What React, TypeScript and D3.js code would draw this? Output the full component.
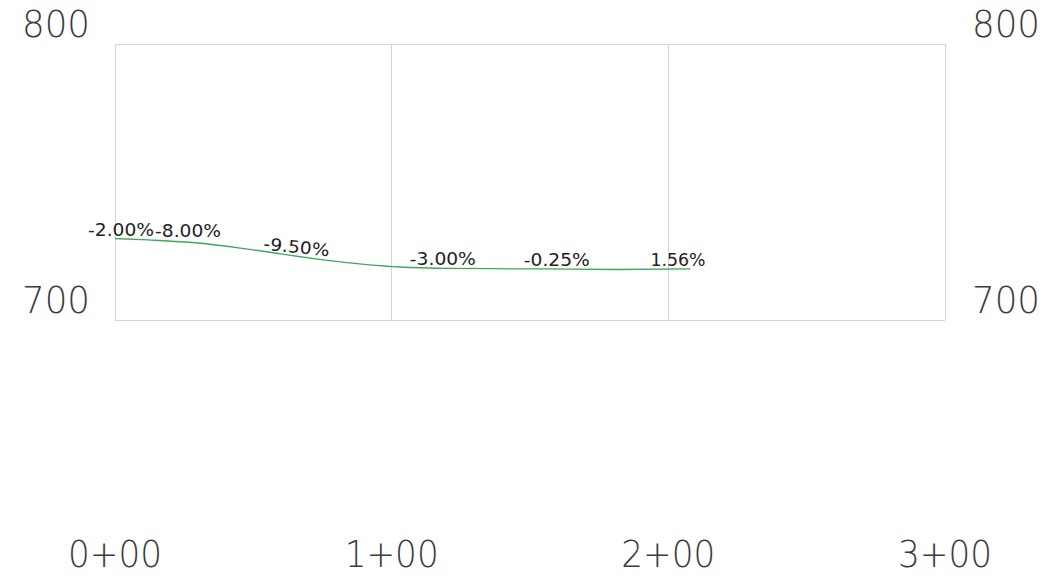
import React, { useEffect, useRef } from 'react';
import * as d3 from 'd3';

// profile (station ft, elevation ft)
const stations = [0, 12, 30, 50, 76, 103, 121, 154, 182, 208];
const elevations = [729.5, 729.0, 727.9, 725.4, 721.7, 719.2, 718.7, 718.5, 718.3, 718.5];

// grade labels and the station they sit over
const gradeLabels = ['-2.00%', '-8.00%', '-9.50%', '-3.00%', '-0.25%', '1.56%'];
const gradeStations = [2.2, 26.4, 65.4, 118.5, 159.7, 203.5];

const stationTicks = [0, 100, 200, 300];
const stationLabels = ['0+00', '1+00', '2+00', '3+00'];
const elevTicks = [700, 800];

const W = 1044;
const H = 578;

const App = () => {
  const ref = useRef<SVGSVGElement | null>(null);

  useEffect(() => {
    const svg = d3.select(ref.current);
    svg.selectAll('*').remove();

    const x = d3.scaleLinear().domain([0, 300]).range([115, 945]);
    const y = d3.scaleLinear().domain([700, 800]).range([320, 44]);

    svg.append('rect').attr('width', W).attr('height', H).attr('fill', '#fff');

    const grid = svg.append('g').attr('stroke', '#d4d4d4').attr('stroke-width', 1).attr('shape-rendering', 'crispEdges');
    grid.selectAll('line.v')
      .data(stationTicks)
      .enter()
      .append('line')
      .attr('class', 'v')
      .attr('x1', d => x(d)).attr('x2', d => x(d))
      .attr('y1', y(800)).attr('y2', y(700));
    grid.selectAll('line.h')
      .data(elevTicks)
      .enter()
      .append('line')
      .attr('class', 'h')
      .attr('x1', x(0)).attr('x2', x(300))
      .attr('y1', d => y(d)).attr('y2', d => y(d));

    const font = "'DejaVu Sans', sans-serif";

    // elevation labels on both sides
    [56, 1006].forEach(cx => {
      svg.selectAll(null)
        .data(elevTicks)
        .enter()
        .append('text')
        .attr('x', cx)
        .attr('y', d => y(d) - 7)
        .attr('text-anchor', 'middle')
        .attr('font-family', font)
        .attr('font-weight', 200)
        .attr('font-size', 38)
        .attr('fill', '#3c3c3c')
        .attr('textLength', 68)
        .attr('lengthAdjust', 'spacingAndGlyphs')
        .text(d => String(d));
    });

    // station labels
    svg.selectAll(null)
      .data(stationTicks)
      .enter()
      .append('text')
      .attr('x', d => x(d))
      .attr('y', 567)
      .attr('text-anchor', 'middle')
      .attr('font-family', font)
      .attr('font-weight', 200)
      .attr('font-size', 38)
      .attr('fill', '#3c3c3c')
      .attr('textLength', 94)
      .attr('lengthAdjust', 'spacingAndGlyphs')
      .text((d, i) => stationLabels[i]);

    const pts = stations.map((s, i) => [s, elevations[i]] as [number, number]);
    const line = d3.line<[number, number]>()
      .x(d => x(d[0]))
      .y(d => y(d[1]))
      .curve(d3.curveMonotoneX);

    svg.append('path')
      .attr('d', line(pts))
      .attr('fill', 'none')
      .attr('stroke', '#40a85c')
      .attr('stroke-width', 1.3);

    const elevAt = (s: number) => {
      const i = Math.max(1, Math.min(stations.length - 1, d3.bisectRight(stations, s)));
      const t = (s - stations[i - 1]) / (stations[i] - stations[i - 1]);
      return elevations[i - 1] + t * (elevations[i] - elevations[i - 1]);
    };

    svg.selectAll(null)
      .data(gradeLabels)
      .enter()
      .append('text')
      .attr('transform', (d, i) => {
        const s = gradeStations[i];
        const px = x(s);
        // the -8% label sits a little higher, clear of the line
        const py = y(elevAt(s)) - (i === 1 ? 5 : 3);
        const rot = d === '-9.50%' ? 6 : 0;
        return `translate(${px},${py}) rotate(${rot})`;
      })
      .attr('text-anchor', 'middle')
      .attr('font-family', font)
      .attr('font-size', 17)
      .attr('fill', '#222')
      .attr('textLength', d => d.length * 11)
      .attr('lengthAdjust', 'spacingAndGlyphs')
      .text(d => d);
  }, []);

  return (
    <svg
      ref={ref}
      width={W}
      height={H}
      style={{ position: 'absolute', left: 0, top: 0, display: 'block' }}
    />
  );
};

export default App;
